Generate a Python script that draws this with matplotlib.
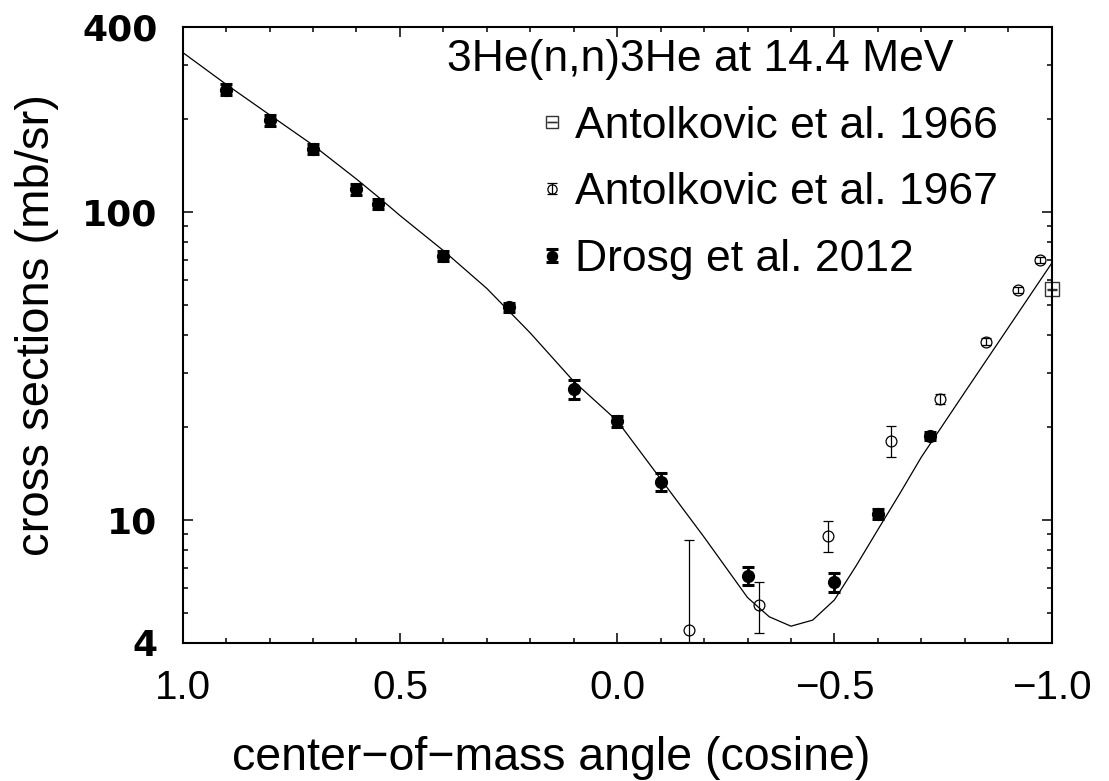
import numpy as np
import matplotlib
matplotlib.use("Agg")
import matplotlib.pyplot as plt
from matplotlib.ticker import MultipleLocator, LogLocator, NullFormatter
from matplotlib.legend_handler import HandlerErrorbar

# Data
# ~~~~~

# Drosg et al. 2012
drosg_x = [0.9, 0.8, 0.7, 0.6, 0.55, 0.4, 0.25, 0.1, 0.0, -0.1, -0.3, -0.5, -0.6, -0.72]
drosg_y = [250, 199, 160, 118.7, 106.3, 72.1, 49.0, 26.6, 20.9, 13.3, 6.58, 6.3, 10.46, 18.75]
drosg_err = [10, 8, 6, 5, 4, 2.7, 1.6, 1.9, 0.9, 0.9, 0.45, 0.45, 0.4, 0.6]

# Antolkovic et al. 1967
ant67_x = [-0.166, -0.327, -0.486, -0.631, -0.744, -0.848, -0.922, -0.974]
ant67_y = [4.39, 5.30, 8.89, 18.1, 24.7, 37.9, 55.9, 70.0]
ant67_err = [4.22, 1.0, 1.0, 2.1, 0.9, 1.0, 1.2, 1.5]

# Antolkovic et al. 1966
ant66_x = [-1.0]
ant66_y = [56.2]
ant66_err = [0.15]

# calculated curve
curve_x = [1.0, 0.9, 0.8, 0.7, 0.6, 0.55, 0.5, 0.4, 0.3, 0.2, 0.1, 0.0, -0.1, -0.2,
           -0.3, -0.35, -0.4, -0.45, -0.5, -0.55, -0.6, -0.65, -0.7, -0.8, -0.9, -1.0]
curve_y = [330, 260, 207, 165, 128, 112, 97.5, 75, 56.5, 40.5, 28.2, 21.0, 13.6, 8.8,
           5.6, 4.85, 4.52, 4.73, 5.5, 7.1, 9.3, 12.15, 16.0, 26.0, 42.1, 68.2]

x_ticks = [1.0, 0.5, 0.0, -0.5, -1.0]
x_labels = ["1.0", "0.5", "0.0", "\u22120.5", "\u22121.0"]
y_ticks = [4, 10, 100, 400]
y_labels = ["4", "10", "100", "400"]

# Plot
# ~~~~~

fig = plt.figure(figsize=(11.09, 7.81), dpi=100)
ax = fig.add_axes([0.1647, 0.1773, 0.7836, 0.7885])

ax.plot(curve_x, curve_y, color="black", linewidth=0.9)

eb66 = ax.errorbar(ant66_x, ant66_y, yerr=ant66_err, fmt="s", markersize=10,
                   markerfacecolor="none", markeredgecolor="#333333", markeredgewidth=1.0,
                   ecolor="#333333", elinewidth=1.0, capsize=3.5, capthick=1.0,
                   clip_on=False, label="Antolkovic et al. 1966")
eb67 = ax.errorbar(ant67_x, ant67_y, yerr=ant67_err, fmt="o", markersize=7.8,
                   markerfacecolor="none", markeredgecolor="black", markeredgewidth=0.9,
                   ecolor="black", elinewidth=0.9, capsize=3.3, capthick=0.9,
                   label="Antolkovic et al. 1967")
ebd = ax.errorbar(drosg_x, drosg_y, yerr=drosg_err, fmt="o", markersize=8.5,
                  color="black", ecolor="black", elinewidth=2.0, capsize=4.5, capthick=2.2,
                  label="Drosg et al. 2012")

ax.set_yscale("log")
ax.set_xlim(1.0, -1.0)
ax.set_ylim(4, 400)

ax.set_xticks(x_ticks, x_labels, fontfamily="Liberation Sans", fontsize=29)
ax.set_yticks(y_ticks, y_labels, fontfamily="DejaVu Sans", fontweight="bold", fontsize=26)
ax.xaxis.set_minor_locator(MultipleLocator(0.1))
ax.yaxis.set_minor_locator(LogLocator(base=10, subs=np.arange(2, 10)))
ax.yaxis.set_minor_formatter(NullFormatter())

ax.tick_params(which="both", direction="in", top=True, right=True, width=1.1)
ax.tick_params(which="major", length=7.2)
ax.tick_params(which="minor", length=3.6)
ax.tick_params(axis="x", which="major", pad=19)
ax.tick_params(axis="y", which="major", pad=18)
for sp in ax.spines.values():
    sp.set_linewidth(1.5)

ax.set_xlabel("center\u2212of\u2212mass angle (cosine)", fontfamily="Liberation Sans",
              fontsize=33.5)
ax.set_ylabel("cross sections (mb/sr)", fontfamily="Liberation Sans", fontsize=34)
ax.xaxis.set_label_coords(0.424, -0.152)
ax.yaxis.set_label_coords(-0.142, 0.516)

# Legend
ax.text(0.304, 0.946, "3He(n,n)3He at 14.4 MeV", transform=ax.transAxes,
        fontfamily="Liberation Sans", fontsize=32, va="center", ha="left")
leg = ax.legend(handles=[eb66, eb67, ebd], loc="upper left", bbox_to_anchor=(0.41, 0.872),
                frameon=False, borderpad=0, borderaxespad=0, handlelength=0.6,
                handletextpad=0.2, labelspacing=0.58, markerscale=0.85,
                prop={"family": "Liberation Sans", "size": 32},
                handler_map={eb66: HandlerErrorbar(yerr_size=0.01),
                             eb67: HandlerErrorbar(yerr_size=0.12),
                             ebd: HandlerErrorbar(yerr_size=0.14)})

fig.savefig("out.png", dpi=100)
